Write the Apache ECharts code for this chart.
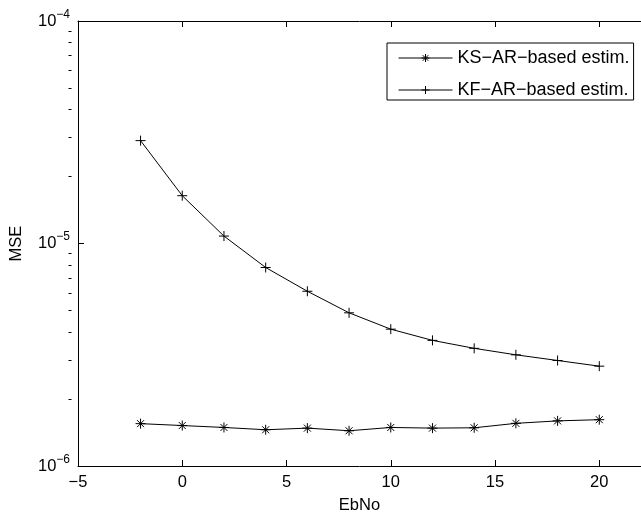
<!DOCTYPE html>
<html>
<head>
<meta charset="utf-8">
<script src="https://cdn.jsdelivr.net/npm/echarts@6/dist/echarts.min.js"></script>
<style>
html,body{margin:0;padding:0;background:#fff;}
#chart{width:641px;height:519px;}
</style>
</head>
<body>
<div id="chart"></div>
<script>
const ebno = [-2, 0, 2, 4, 6, 8, 10, 12, 14, 16, 18, 20];
const ksAR = [1.55e-6, 1.52e-6, 1.49e-6, 1.455e-6, 1.48e-6, 1.44e-6, 1.49e-6, 1.48e-6, 1.485e-6, 1.555e-6, 1.595e-6, 1.615e-6];
const kfAR = [2.9e-5, 1.64e-5, 1.08e-5, 7.8e-6, 6.1e-6, 4.88e-6, 4.12e-6, 3.67e-6, 3.38e-6, 3.16e-6, 2.98e-6, 2.81e-6];
const seriesNames = ['KS\u2212AR\u2212based estim.', 'KF\u2212AR\u2212based estim.'];
const xTicks = [-5, 0, 5, 10, 15, 20];
const yTicks = [1e-6, 1e-5, 1e-4];
const yMinorTicks = [2e-6,3e-6,4e-6,5e-6,6e-6,7e-6,8e-6,9e-6,2e-5,3e-5,4e-5,5e-5,6e-5,7e-5,8e-5,9e-5];

const FONT = 'Liberation Sans';
const AXFS = 16.5;
const GRID_LEFT = 75.5, GRID_RIGHT = -7;
const GRID_W = 641 - GRID_LEFT - GRID_RIGHT;
const starPath = 'path://M0,5L10,5M5,0L5,10M1.5,1.5L8.5,8.5M1.5,8.5L8.5,1.5';
const plusPath = 'path://M0,5L10,5M5,0L5,10';

const chart = echarts.init(document.getElementById('chart'), null, {renderer: 'canvas'});
const xCommon = {
  type: 'value', min: -5, max: 22, interval: 5,
  splitLine: {show: false},
  axisLine: {show: true, onZero: false, lineStyle: {color: '#000', width: 1}},
  axisTick: {show: true, inside: true, length: 6, customValues: xTicks, lineStyle: {color: '#000'}}
};
function mk(name, data, sym) {
  return {
    name: name, type: 'line', data: ebno.map((x, i) => [x, data[i]]),
    symbol: sym, symbolSize: 10, showAllSymbol: true,
    lineStyle: {color: '#000', width: 1},
    itemStyle: {color: '#000', borderColor: '#000', borderWidth: 1},
    emphasis: {disabled: true}, animation: false, z: 5
  };
}
chart.setOption({
  animation: false,
  backgroundColor: '#fff',
  grid: {left: GRID_LEFT, top: 21, bottom: 46.5, right: GRID_RIGHT, containLabel: false},
  xAxis: [
    Object.assign({}, xCommon, {
      position: 'bottom',
      name: 'EbNo', nameLocation: 'middle', nameGap: 31,
      nameTextStyle: {fontFamily: FONT, fontSize: AXFS, color: '#000'},
      axisLabel: {show: true, customValues: xTicks, fontFamily: FONT, fontSize: AXFS, color: '#000', margin: 8,
        formatter: v => String(v).replace('-', '\u2212')}
    }),
    Object.assign({}, xCommon, {position: 'top', axisLabel: {show: false}})
  ],
  yAxis: [
    {
      type: 'log', logBase: 10, min: 1e-6, max: 1e-4,
      splitLine: {show: false},
      position: 'left',
      name: 'MSE', nameLocation: 'middle', nameGap: 53, nameRotate: 90,
      nameTextStyle: {fontFamily: FONT, fontSize: AXFS, color: '#000'},
      axisLine: {show: true, onZero: false, lineStyle: {color: '#000', width: 1}},
      axisTick: {show: true, inside: true, length: 6, lineStyle: {color: '#000'}},
      axisLabel: {
        show: true, margin: 8,
        formatter: v => '{b|10}{s|\u2212' + Math.abs(Math.round(Math.log10(v))) + '}',
        rich: {
          b: {fontFamily: FONT, fontSize: AXFS, color: '#000'},
          s: {fontFamily: FONT, fontSize: 12, color: '#000', padding: [0, 0, 13, 0]}
        }
      }
    },
    {
      type: 'value', min: Math.log10(yTicks[0]), max: Math.log10(yTicks[yTicks.length - 1]),
      position: 'right', offset: -GRID_W,
      splitLine: {show: false},
      axisLine: {show: false, onZero: false},
      axisTick: {show: true, inside: false, length: 3, customValues: yMinorTicks.map(Math.log10), lineStyle: {color: '#000'}},
      axisLabel: {show: false}
    }
  ],
  legend: {
    show: true, orient: 'vertical', left: 387, top: 43,
    data: seriesNames,
    itemWidth: 54, itemHeight: 10, itemGap: 14,
    padding: [6, 4, 1, 11],
    borderColor: '#000', borderWidth: 1, borderRadius: 0,
    backgroundColor: '#fff',
    lineStyle: {width: 1, color: '#000'},
    itemStyle: {color: '#000', borderColor: '#000', borderWidth: 1},
    textStyle: {fontFamily: FONT, fontSize: 18, color: '#000'},
    selectedMode: false
  },
  series: [mk(seriesNames[0], ksAR, starPath), mk(seriesNames[1], kfAR, plusPath)]
});
</script>
</body>
</html>
